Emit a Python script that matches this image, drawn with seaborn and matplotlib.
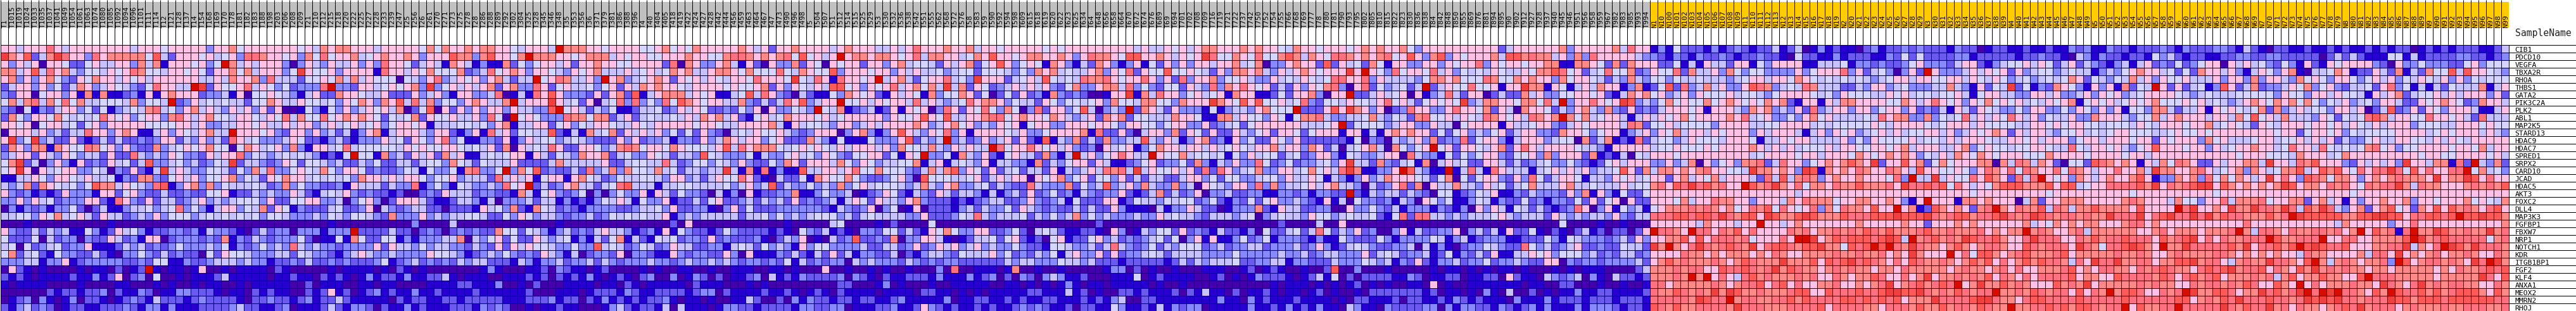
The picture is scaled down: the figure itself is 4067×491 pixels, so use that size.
import numpy as np
import pandas as pd
import matplotlib
matplotlib.use("Agg")
import matplotlib.pyplot as plt
from matplotlib.colors import ListedColormap
import seaborn as sns

genes = ["CIB1", "PDCD10", "VEGFA", "TBXA2R", "RHOA", "THBS1", "GATA2", "PIK3C2A", "PLK2", "ABL1",
         "MAP2K5", "STARD13", "HDAC9", "HDAC7", "SPRED1", "SRPX2", "CARD10", "JCAD", "HDAC5", "AKT3",
         "FOXC2", "DLL4", "MAP3K3", "FGFBP1", "FBXW7", "NRP1", "NOTCH1", "KDR", "ITGB1BP1", "FGF2",
         "KLF4", "ANXA1", "MEOX2", "MMRN2", "RHOJ"]

tumor_samples = """T1 T1015 T1019 T1024 T1033 T1035 T1037 T1041 T1049 T1054 T1061 T1063 T1074 T1080 T1085 T1092 T1094
T1096 T1101 T111 T114 T12 T121 T128 T137 T14 T154 T168 T169 T170 T178 T181 T182 T183 T188 T198 T203 T206 T208 T209 T21 T210
T212 T215 T218 T220 T222 T225 T227 T228 T233 T239 T247 T25 T256 T26 T261 T270 T271 T273 T275 T278 T28 T286 T288 T289 T292
T302 T304 T325 T328 T345 T346 T348 T35 T353 T356 T36 T371 T379 T381 T386 T388 T396
T4 T40 T404 T405 T418 T419 T422 T424 T427 T428 T442 T444 T456 T459 T463 T464 T467 T47 T473 T490 T496 T498 T5 T504 T507 T51
T512 T514 T515 T525 T529 T53 T530 T532 T536 T538 T542 T551 T555 T562 T568 T572
T576 T58 T583 T59 T590 T592 T594 T598 T609 T615 T618 T619 T620 T622 T623 T625 T634 T64 T648 T656 T658 T664 T670 T672 T674
T676 T689 T69 T694 T701 T702 T708 T709 T716 T719 T721 T722 T737 T742 T750 T752 T754
T755 T766 T768 T769 T777 T78 T780 T781 T790 T793 T795 T802 T805 T810 T815 T822 T823 T830 T836 T838 T84 T842 T848 T850 T855
T869 T876 T881 T894 T895 T90 T902 T912 T927 T928 T937 T940 T945 T946 T951 T956 T958
T959 T967 T982 T983 T985 T993 T994""".split()

normal_samples = """N1 N10 N100 N101 N102 N103 N104 N105 N106 N107 N108 N109 N11 N110 N111 N112 N113 N12 N13 N14 N15 N16
N17 N18 N19 N2 N20 N21 N22 N23 N24 N25 N26 N27 N28 N29 N3 N30 N31 N32 N33 N34 N35 N36 N37 N38 N39 N4 N40 N41 N42 N43 N44
N45 N46 N47 N48 N49 N5 N50 N51 N52 N53 N54 N55 N56 N57 N58 N59 N6 N60 N61 N62 N63 N64 N65 N66 N67 N68 N69 N7 N70 N71 N72
N73 N74 N75 N76 N77 N78 N79 N8 N80 N81 N82 N83 N84 N85 N86 N87 N88 N89 N9 N90 N91 N92 N93 N94 N95 N96 N97 N98 N99""".split()

# colour level of each cell, a = deepest blue ... l = deepest red
levels = "abcdefghijkl"
level_colors = ["#4500AD", "#2700D1", "#6B58EF", "#8888FF", "#C7C1FF", "#D5D5FF",
                "#FFC0E5", "#FF8989", "#FF7080", "#FF5A5A", "#EF4040", "#D60C00"]

block_1 = [
    "ggeggg igeggg ggggge gggfgg gggdgg hfgggg gggfge",
    "khgjce hkiggd ighhhh hfjecg ggfgef gdiihg gfgdhf",
    "gdgega ggfccf geeggd hehbgg gfgdfl hegegg gdadge",
    "hhegje ighedf fegfgi hffegg fgfcgg hfhegg gdfkgf",
    "ghdgdg hfdcgf hggegf gegggg ggeege hgghdi eeecff",
    "ceggdg dfcehg degfed cfigge elkcgf fgiegf dfcddd",
    "dcggaf ggdgbh bhbbcd bgbghg ggcdde bgaffg fedbeg",
    "fhehie hfifhe efffeh dffelc dgefef eecffh geegff",
    "dcafbd ceggdf cfbdef ehiefd gheged gegdgc gaabfd",
    "chfdgg fhfefe figfgd fggdhi geghff eggfeg fiehff",
    "ggfgaf ggefcf gdgggg gffffg gegdde eggfge egeggd",
    "agggeg deceei ggdghg bbegdg feghee lgggfg dcggdg",
    "gkdfkd eccgcb cececc dcdggc edgdec igefdd degfcc",
    "chgdhh bhgffi hfgdgd cchdef gfghff afhgef gdhdbg",
    "deggcg edgfde ecgcci ededgf ddcgeg gidfed efefed",
    "fhkcea dgdbgc dcgefc ejddef decdfe kceedc dgfcff",
    "fgkgag efggdd feadcg cbekeg eddffe cfdhei ddfgfe",
    "bbeegf dggfeg eefbdc hhdcfg egdffg hdfecg fhggef",
    "edehch gfefdf jhhegf edijbd ghdhdf eeefec dhdfdd",
    "gdcdbc bcgddd bggcfg dccecc dccffg bccede ddgecb",
    "ddgdge fcdddg gcbigd cgceec degded efffdg ccffgg",
    "adbdcd bddfca cebbde efdefi dfdbeg gdfehc gfbdcc",
    "eeffdg fhefge cgeecd edgdff fdefef efefdf feddde",
    "aaabaa aaaaaa aabaaa aaaaaa aaaaaa aaaaaa aaaaaa",
    "gdccec edebbf dbcgef dbccdd cdbedd cbacec ddaddd",
    "fcccfa ecddad ccgecd bggacd ddcdch bdcedc dddfca",
    "efafcd efcddg bbbced ecdcdf dddedf bdcdfd ediede",
    "fhcefc bfddcc ecbadd fdcecd ccafcg ffeddd eecfed",
    "dddeeb ddgbcd ddddcc dcffbb dccdee ededdb ccdcec",
    "agcbab aaaaba bbacab clbabb abgaab abbbba cbaaaa",
    "cbcbab bbbcbb dbcgac dafaab abbbce bbbbba bbcbba",
    "babbbb aaaaba aaabba aababa ababba ababbb bbaaca",
    "aaaaaa cbccbc cdacbb dcabbd dcccba bbacbc bbaacb",
    "abcdad babdac cbabcd cbeccc bcdccc cbaccd ccbcdb",
    "cbdecd cabccb bcccdc bddbdb bbcccc deccbb cdabbb",
]

block_2 = [
    "hghhgg gegggg gfhfhg ghghhg gfeggg elhhhg gfgggg",
    "ifgghe fghggh gdgggj hhdhjg gfhlhh hggfgh hhegfg",
    "dgeegd gdiggf cegebh gebdbb hcfdfg gegcgg hggffg",
    "fgdggg gbigge gfhfff hcdeif ghgdgg fedgfg heeege",
    "gfhehe gfffaf edgide gfgdgh eceelf giheeg dlghde",
    "ilddcg gefgfg hdkdfg egeghc ghddig cfgeef dfgcge",
    "cchggf eegccc gdegdb ggddei abebig jgdddc gcghcj",
    "efdgfh gdhgje iehdff dghgee hleggg kgefcg aefidi",
    "bfdgde gfgeha cfjagc gdgdgg dgeedd jlfgec edfbbc",
    "ifghgh gfcfef hcgffg eegdif alfgfd ddihhf hhcegc",
    "egefge fgdfgg fgbeee ffefdg hbeegg cfgdfe ggfeeg",
    "decebd ghbegg gedggc bdgbie gcffee jcbebh efhcge",
    "bdecbd ddgefc gfdgid fbbddc gbdgef fdefed cccgdg",
    "gefief ffffeg fgffgg fefegc hagefe igccgg fdehih",
    "bcbflf fbhdec gegche gbbefe fggbge cfedhg ghcefd",
    "edecce dfccee ceffdh fecfee egcccc eheeee egccef",
    "hfdggf cdccdf ebfddf bhiddf ldhfjc dcceci dehdhf",
    "efefdh ggegeg gfdffg deeeci egegbf ggbghf ecdfee",
    "ccdbge eecedd ibdfdb fedded ifglce cdghee cefije",
    "efegdc dccbca acdcge eecddc cbhebf gdcdfa dadfdd",
    "ddeadf gdacgg gecbbc eedbea dddece ebdbcb dfegeb",
    "cefccd gaedcd eeccac ccbgef dhcbhf ecdcbd dddccd",
    "dfedff edchdd dgdede effecc fdgfde edcdde cdfefe",
    "abaaaa aaaaaa daaaae aaaaaa aaaaaa abaaaa aaaaaa",
    "bdddlc cccecc acdcac dcdcch ffcfed bdecdc egeedb",
    "bbfbhf ccffbd bdddee haedfg cfccge defbdb ecfhbe",
    "ddcddd dgcgee dfdeed dcedcg cgegff eddfdd jefecd",
    "dcbdeg eddedd ddgffe dbcded fdcdcg edbeac ddcgad",
    "cdcdcc cdfbcd ecdcdc edeecc cbedbd decdde cedcdd",
    "ababbb babacb abaaaa aaabdb aaabbc adcbba bcaaaa",
    "cbcbab dbccbd bbcceb abbbaa bbbcbc acbcbd babcba",
    "bbbaab babbaa aabbbb ccbbbd aabaca aabbbb abbacb",
    "cgbcab cdbcbb dbbcbb bbcbbb bbbcaa abbbab cccbdc",
    "ccecbb bbbacb ccbbcc bccccc bbbccc dbccac bdbcbc",
    "cecbdd cacbbd bcbbbc ccbdcd caabab bcbbaa abdecb",
]

block_3 = [
    "ffghfg fhgggg ghgegc gghggg geghgg geegeg iggghg",
    "gffggg hggffh iihghg hifjfg eglghh ghhgfg iehhgg",
    "gggcia hgddgh ebgcag ddhcgf agfggc ggdghe ffecge",
    "fgefhg heeghh gfhfff ifehgf fjdggg fggdge geefde",
    "fghgcg fgegfe ggfigg gfkfei gbiggf gleghe cfggie",
    "hghggf eggggf gffghc gdgfeg ejjfgd gfgieg hfheke",
    "beghhh egfgbb efjeig dcaecb bfdhgf gcbgeg fbhdff",
    "dfdifj hgfgge ehdcec eigjde gglffg egfgge iegede",
    "eefcdg egfccd cfdgag ddfedl fehbcd ebcgbg fgadig",
    "efeefe gehghe gcbfge fhgggf gefggg ggdgff gjgfje",
    "fegggg gfggfe eggggh ebgeff edggde gegggg hgdegh",
    "gegdfc fcgdca efegff gedcdg ggadgh dbdgjg edgfid",
    "cddebd dcgdeh geggdf gccche dbfbbb fdddgj cedeld",
    "fggfhg fffegj eighhh fefgfg fegegg gegdhf fehedg",
    "dgfece edjfed ddfbed dfgefd gfdcff ggcfbg flddfb",
    "feeiec dffdfe dgdccf dhgcgg gehfdg fdeeff hbegbe",
    "fehefc eedeek ebhbib dbbjee ggegif fhfffd cehehj",
    "ffedgg decegf figcba eccfbh gffhfd ccdfgd ajfffe",
    "eebeef feeeef degdej ceddfd edhdfg efffed ehedgh",
    "gbgecf ddcaeb dagbcc ddhbbd fddeab cdgfcb edcgec",
    "fddgbc cecfgc cdeced ecgcdc debegf cgeedg hdcccb",
    "eefdgc cddbad gcfccc dddddd cbedcd gadfab gacccb",
    "feegbd edeeee eceefd fdedef ffdece feeeed dgcccd",
    "aaaaca gaaaaa aaaaaa abaaaa aefaaa abacaa aafaaa",
    "cdbgbf dccbcf dccccb cbafdc ebcbad dcffce cbgfhf",
    "cbfefc ddcgcd cccdba cedgab aecdjc cdchad dggeba",
    "fecdge eccddb efecfd edbgdf fdddde cceecd gcdgeg",
    "dcbbgd cddccg dagbbb dcecbe cgcebd dcceac bdeedc",
    "deddcd eddede dcddcd cfbecd cddaed edddce dcdcdd",
    "babaab baabaa bbbaab babaaa gaabaa babaab aaadai",
    "cdaada bdcaca bbcdae bcbdcc ccdadc bacbbc ccbdbb",
    "abbbbb acbbba aababa aaaaaa aaccaa abdaba aabaab",
    "bbcccc bcddac bbbbcb bcbabc bacbbb babbbb accbba",
    "bccdba bbabaa bbecaa cadbdc cbccbc cbbcdb bbbbda",
    "ccbeae bbbabd dccbcc ccbddc cddabb bccdbb cgdcbc",
]

block_4 = [
    "gheggf gggggf gfgggg ggggge geegfg eghhgg ghghgg",
    "efhgjg gfghhg ghgdgi hhgfjj gghgeg fgkiff hgfiff",
    "ghcfgj gdfgfb hgdbec hgdbdg bfcgdg dggegg hefhad",
    "ffcfff edfdhg hefeeg hdgfic gffjff gfecgd hhghed",
    "fdkggg cefgej fefeih higfgg igdgci dgghdf fgeddg",
    "hcgfcd egegeg dcfhdd ghheid fdcffc gedidh gigfgc",
    "hgcfac fcgcdb hdcdca abggkb heiggd fgefgb hggbbc",
    "fighhg dfeecg fdffef gdhffe hhffdh gggkhg fjgjff",
    "cgfifd hfadic ggdfje adedlc hgecgd ddbfbd eedghf",
    "egghii fghggf hgedeg chghcf feeehg gfbbhh egffdg",
    "fgdedg fgbfgg ddgggf ggfdgg ffdfgg ddgcde fcfggg",
    "gbgggg fegddf gggghb iccgca eggdhc gfcgcc gedfgc",
    "ecdgde gcgcbj bedhce chddee jedgeb dghcdb gdfccg",
    "egeeli fggigf gegdcd agefgb dfhgge ggegef gfeggh",
    "hedgcb fgeech dbeleg dfgige elgffh effefb fdgeff",
    "fedgbe eddbhc edfggc gebbcd fgcddf chdbed gddifc",
    "dgfcgc efceec gbedeg eihiek egffge gcicig defhdd",
    "efgceg eggagf ghdfgc ffdgce ceecce ggdfcf fddeff",
    "ddefce dccied ddhcfd ejdegd heddhd eagfed ggdidh",
    "eedbeb decgcd fcdbed cddgcb cehcec dgadde ccddbb",
    "cbcdee ccdgdc debfcc cggbcf eedfef fcdfcb dcfcfg",
    "decedd fcgedc dccece ccgdbb baebdd geccab dddhcb",
    "feiede eefced fdehdf deddde ddgefe edceee defade",
    "aaaaaa aaaaaa aaaaaa caaaaa aaaaaa aaaaaa aaaaaa",
    "ddggcc dfcaef ecbbcc bagdab edffcg cdcbec cbdafc",
    "bceefc fgcbca fgbccf gdecdc defcfa dgbgbb dfcdfb",
    "degded dfdccb ffedde ceiedc dfcedf ffcdec ddeecd",
    "feeegd fcdced fbegdd gcgcdd efecee eedddd fddddd",
    "cccccc edeedd dfeede cccbcc cccbce cedeee fccdde",
    "aabbba bhaaba abaaaa abddac abaaba aabbba abcabc",
    "bdbcda cadcad edbbca aabbbf abcbbb baabca babdcc",
    "bbbbaa bbabab abdbab babbbb babaab aaaaaa aaaaab",
    "bababb bbbccb bbebca baaccb cbbbca cbebba cabbcb",
    "bbccbb cbcbbc cbbbcb cbdeaa ccbbbb bbbbdb badbcb",
    "bbcbcb bcdcdc bbcacc bbfdbb cbebdc ddabbb bbdbbc",
]

block_5 = [
    "fehggf gggfgh ghgghf dggggg gggggc eggggg ghdggg",
    "hjhehg fiihgh ghifgj gdhjdg fggghe jjhihh egdhdi",
    "dghggc jcgefc hfbggd dggdgf ggidgf ggfggh hbbhhg",
    "geghgf gggkgl gfdifg gfiegd fefegf eegfhh jifgce",
    "efegfe fiiggi dgeeee dfhhgh fffihf fhghgg dhfggf",
    "ecgdgf hidagi cfdefc elcegf fiffgb ggkhhb gfbege",
    "fcgghd agglcc egefga gbdeie cggace cchegd dffggf",
    "gefidc ffegff egifge cfgfgf kdehhg gfhhfi eldggi",
    "fflccc gjgkhg dgacdi ggddgi ggfhcg eahggf cedghe",
    "fbfhhi eddeef hedfec hiffge gfeihg fgeihg hlhfhe",
    "gggeee fglcff ffdegg ddgeea fggggb geefgg dcegfg",
    "ggfcfg ggbggb ebghgh ggcfcf gdedfg ceggdd chggfd",
    "fdgccc cccbfa dcaede gdhcdd icfggd begggd effahc",
    "eggdhg ceaefg heahfd fglfgc ggfegh cgigeg gggfee",
    "cefcdg gdbfed deggai eddbfc fdfggd cffgdh dgggch",
    "dfcdde fdgkee chdcef bhaege fccgge cecdef ddfdcb",
    "ggefhf geikhb bddglj edbblb eiebig eeebef gegegd",
    "dgeegf bedbdg dehggg fecfha fcfggd cgdifc eggfbe",
    "deefge gheeda ecdgic hageeh eedgef cefhee egheef",
    "ddcdbd dcclcb edeece dcaffb cdfegb bdcedd dcgdhb",
    "ddedcb gbeafd dcdbed agfdfb bdfebd ccfcdb ddcfcg",
    "geeccd daagdd fdcebd ddbdcb dagdge bfecec bcdiga",
    "feedgf fdefee fcbfic iieede deeefg edeeec gedede",
    "caaaae aagaaa aaaaaa aaaaaa aaaaaa aaaaaa afaaaa",
    "cefcei fcedgc daadgb eccddg adeceb gccfba cbaceb",
    "dddcbd bbfdcc cfdbdd ddfebd ebcddd bbcccf dbfedd",
    "ddecdg dbcefe dccdde aebdba cddfed ccifde cdegcc",
    "eddecd eedddg cefecd debcfb dcecgb beegfg dfffde",
    "ebddcc cedddf edebdc gcbdde cddfcd dedccg gadcdd",
    "baabaa cjaada aabaaa aababb ababab babaaa bababb",
    "cbabce bfacac cccbbd cabbcc abbcca gcbbae dcdead",
    "abbbab ababca babaab bagaba abbbbb bbabba accaaa",
    "abbabc abaaba cccccc cbcabb abadba eaacab abbdbb",
    "bbcbbb babacc bbbcac cbbcbd cbcbbb adbbbd bcccbc",
    "bdbcbd bbaedb badccc cddadb ddccbd cbcdbd bbbdbd",
]

block_6 = [
    "ggheig gbdbfc ccbdbc dcbcce bceabd bcbbac dbccdc",
    "ggggge ddcbdc bdccdc bccdcc bafccb bdbccc bbdcfc",
    "fchchg ggccfb ebgeec ggbfdg gggbbe eefbdd cdccdf",
    "fiffhc dgffic heegdh fdffdd ddgdfg ggidgc efdadg",
    "ecedhe dffdfe efeeed efggeg gfhgfe fefefe defgge",
    "hggbdh bcfjci dehegd dgjihd efeihe eecced ggdefd",
    "gcbehg hfgdeg dgfffg effedf ggggfe fdgfff eegfge",
    "gfgkjd edfhfg ffhfgh gfgfhg hcbggb gehhgg ggffhg",
    "dhdcgc dceggg fgbggg edhghd edgcid eggdgg dfggdg",
    "fggebe gegfgh fggggh giefgd dfdghf geeeef eighhd",
    "gggeih cffgef fffdgg ggeeff ggggef efffff gfeggg",
    "fggbde gdgfhe ggegfg ggdgeg ggebeg dgfgde fgegef",
    "ehbcbi ceffde gfffeg ggfbee gfggee eegdfd gffffg",
    "dbgggg geffgf ffgfgg gghgeg egefff geggff ggfghe",
    "bcbeaf egggfg gggggg ggefgg ggfgge gggfhg fghghg",
    "cfgegg gddgde hagdfg dhhice iggdfg hghjhg kcggjg",
    "eefjgc hehhgh ghiggf fekhhg hgdkjb hghgih ggihge",
    "edgfge fggcgh egfheg ggecie jehihd ghgghg ggfidl",
    "eeegef fhigji kijhig gljhik hgifhh gihhjh hhigki",
    "gdbfcc fggggg gggggg gggggg ggeggg gggggg gggggg",
    "cfgagc cgggfh eggihh ggdggg ehgihh hfgghh gghgdb",
    "dgbfde bfghhh ihihgh fgihjf igfgid hfihhg jgglgh",
    "edgdce eiiijj ijjiki hjjgkj hhjkjh hhjiii jjjkjj",
    "baabaa aggggg gehggg egglgg eghggg gggghg gggghg",
    "caccac gliihg liigih jgiggg gihigh hihihj ihjhhh",
    "dcdecg dgghhj gjgiii hifggg igllkg hjijjj ijkjel",
    "dccfee ckhlhg ikihij ihkgij jihjjk hhfjij ljlihk",
    "cdceec dggggi hhghgh hhghgi hgghhh hihhih highgk",
    "cdddde cghjhi hhhihg hjihhh khhhjg jijkij ihgigj",
    "baaaac ehhhih iiggji ijihik hjihhg hihihh ghhgih",
    "baeccb chhhih lhlgig eijhih hhihig gihghh jiggig",
    "baabaa biighh hhhihg hiijgi jgiggh higghg hikghi",
    "ccbbbb cihhji hihkhk jhhihh hijjgg jiiiji ijkkjj",
    "ccbccc biiiii hkjiil hiihhi ijhjii iijjij ijijgh",
    "ddcbcc bjihjh hiiiih kiiihh hiiiij giiiih hgiiih",
]

block_7 = [
    "dcccbd ccabcc bbcbbc bbdcdb bdccbc ccdcbd cccddc",
    "fccccd dbcccc cbccdc cbaedb dccbcc bfdecb ccbbcc",
    "gdddce ggcbde ffgegf cegced cbdebe gcdcfc dfggag",
    "clgddd egegfg cgdeff defeeb dedfgh ggefcf chggeg",
    "ggffgg egfegf defdef efhgcf edfehe gdgffg eeegdg",
    "ddeehe dbgcfe kcfbdc hgfdbg dgbhcf elgcgc efbdjg",
    "ffeffg ebfgge eddgge gddegd gfgdef ggggfe defeee",
    "egigfg dgfhfg fgefeg fghbfg fgefgf ghfffg fgefed",
    "cdcebg ecgfed dfdggd dfdgfd gdgbff dhhece egbgfg",
    "dhdfef iegegf igegdf eegddh gggedf fheghg ggegge",
    "gfefgg gegfff feeggf gfggff efffeg fegggf gghefg",
    "fggegd egfghg cgegge dffgef efggff feefgf fgfggg",
    "effege gggfee ggfgeg ggdfgg egggfg gcgfgg gdhfge",
    "gggeeg hdfgff effggf eeifeg gfgedf gjgggf ggdgef",
    "dfegeh gfhgfg ggfffh ggggfg gggfgg eggggg gggggg",
    "hcfhfg gghhah eihehg caffcj ihghgb gehfih gccgeg",
    "jggffg fdgihg ifihgg ifihge ggiggh ekhhgg higefg",
    "eekegf figjhg cieilg fgdhge ghgghj gbddhg hdifhf",
    "ijijfi gegfhj jjhhhj gjjefg giiiij hkgihi jkkgjh",
    "gggggg gfgggg gggggf gggggg ggggfg gggggg gggfgg",
    "glgggb hhghgg gaehcg ghhhgg ggghih gggehf fdggie",
    "bcjhgh gchilh gihhje ihehhj hhhhgj ggggli kgghgk",
    "jkihij jhiijk ihikji hiihih hkiiik gijkii kikhji",
    "gcgggh ghgggg gghegf hghghh ggghii ghgggg gggggg",
    "ijhhih hhighg hhlhih gghieh hhhhhg ghighh hghhhi",
    "hijhih kjiijh ggikii iggihj hiijii igjhij kgigih",
    "ihhghj hghiih ggjihi iigkih fiijkj hglhhk iiiiij",
    "hggglg ifjjhg hijhhh ijghhh hhihhi hgghih hhhiih",
    "ihhihg hjhjgi ghjhji iheigk iikhhi ighhjj khiige",
    "hhhhgh ihhghi gigghh hijghg iihhgi hijihh gijijk",
    "hkghhi hihjgi hgigii iijghh ggjiii ihjigi jhijgh",
    "jhijil ghkhhj hihggg jhihkg hhhhhi hihhgg ihiihi",
    "kihihj ihiilh hihjih iigjgi hlhjji ggihil khhjji",
    "hhkiii ijkkih hgijji iiijii iiijii iiiijj ghihji",
    "jhhjhi ihjihh lhhiij ijhjji hiilgj hhiili iiiiki",
]

block_8 = [
    "becbac cbbcbb cbcbbc bcbcca bcbcbc ccbbce",
    "ddccdd ccccca cececb bbffbe bccccd dccbcd",
    "egefdc fdbgcb gfgggg dcagdd fdddcc fgdfff",
    "dbegfd ghbaee fhgbcc gechbe chffje jggfed",
    "gdhdgg edhfgf dggfdf gegdfe gfegdg dfefff",
    "cehcdd egfhdf gdceef cgidfb ebecfe eehbeg",
    "fffffd gffdgg egffeb geghce ffgege gggdgc",
    "eghgfh ghfhfd fegdef dggecc gfghgf cdhgge",
    "fefhch degeff dggega cejcdg cgfdgg gebbeg",
    "hfjfge heeedg fcfefi jheggf figgfg ecieee",
    "fecgfe gggfgg fgegfe gegggd fffeeg ggfgff",
    "gggggf ggcfgg fgdfef fffggg gefgfg ggeged",
    "eefgge ffgege gceddf geeggf fegegf eggggg",
    "gghgge figgei fefefh ifgdff ggggfg gfhegg",
    "fgggff fehggg efhggg gggggg fggffg gggfge",
    "ghhekg geihjg ggdcge gegdkg gehhbi cledhc",
    "hdhgef hhjegj hjgfig iikifj giggii lfhefd",
    "hgegkg igdjih fhhgdg hghihh hgkghh kjgigg",
    "ghghgh kjghhg ihigfi hiikhe ihhggg hihihj",
    "gggggg gggggg gggfgg gggggg gggggg gggggg",
    "hhhifg ghhcgh egbgdg ghgghd ggfggg hfgfeh",
    "hhkiih kiejhk iedghc ghjfgc hgjgjh ihgijg",
    "ihhhjh ilkjjj jjhhjj kkjjgi ijjijl jjkjjh",
    "gigggg gggggg gehggg ggdggi gggggg gggggh",
    "lheiih gihhii highlg jhibil hhkjhh ihhkhi",
    "hiiilj hhiiil ggiigg hhhhjl khijii iiifhi",
    "hkgiij hjljkj iijggg hhiike hgilkj hkiiih",
    "ghghgh ggeihh gggghe iigkgh ghighh ihggih",
    "hihhki ihgjlh ehihgh hidljg hiihih gkilkh",
    "hiijgi hgjhkh ihihhg hhghhh hhghgi hhijij",
    "hhihie hjghhj hhggjl iiihhh hhghhh hhkigj",
    "hjiggj hglgig hhhihh gkihgi khihii hhggih",
    "ghhkij hiklil kliihg jhljii jhjhij jjhgjh",
    "kiiiji ihikjk jkiihi iikjjh jjjijj jjjjii",
    "hjiikh igihhg hijikh iiighi hhhihh iiihhi",
]

blocks = [block_1, block_2, block_3, block_4, block_5, block_6, block_7, block_8]
block_sizes = [42, 42, 42, 42, 42, 42, 42, 36]

samples = tumor_samples + normal_samples
rows = []
bad = []
for r in range(len(genes)):
    parts = []
    for k, (b, n) in enumerate(zip(blocks, block_sizes)):
        txt = b[r].replace(" ", "")
        if len(txt) != n or set(txt) - set(levels):
            bad.append((k + 1, r, len(txt)))
        parts.append(txt)
    rows.append("".join(parts))
if bad:
    raise ValueError(f"bad rows: {bad}")

matrix = np.array([[levels.index(c) for c in row] for row in rows])
df = pd.DataFrame(matrix, index=genes, columns=samples)
group_row = pd.DataFrame([[0] * len(tumor_samples) + [1] * len(normal_samples)], columns=samples)

W, H = 4067, 491
left, right = 0.5, 3960.5
top, bottom = 70.5, 490.5
mono = "DejaVu Sans Mono"
lw = 0.72


def px_axes(fig, x0, y0, x1, y1):
    return fig.add_axes([x0 / W, 1 - y1 / H, (x1 - x0) / W, (y1 - y0) / H])


fig = plt.figure(figsize=(W / 100, H / 100), dpi=100, facecolor="white")

# sample colour band
ax_band = px_axes(fig, left, 3, right, 44)
sns.heatmap(group_row, cmap=ListedColormap(["#C0C0C0", "#FFCC00"]), vmin=0, vmax=1, cbar=False,
            xticklabels=False, yticklabels=False, ax=ax_band)
ax_band.set_xlabel("")
ax_band.set_ylabel("")

# expression cells
ax = px_axes(fig, left, top, right, bottom)
sns.heatmap(df, cmap=ListedColormap(level_colors), vmin=-0.5, vmax=11.5, cbar=False, linewidths=lw,
            linecolor="black", xticklabels=False, yticklabels=False, ax=ax)
ax.collections[0].set_clip_on(False)
ax.set_xlabel("")
ax.set_ylabel("")

# header: sample names and column rules
ax_head = px_axes(fig, left, 0, right, top)
ax_head.patch.set_alpha(0)
ax_head.set_xlim(0, len(samples))
ax_head.set_ylim(top, 0)
ax_head.axis("off")
ax_head.vlines(np.arange(len(samples) + 1), 0, top, color="black", lw=lw)
for i, name in enumerate(samples):
    ax_head.text(i + 0.62, 44, name, rotation=90, ha="center", va="bottom",
                 family=mono, fontsize=8.2, color="black")

# right side: gene names on top of the row rules
ax_side = px_axes(fig, right, 0, W, H)
ax_side.patch.set_alpha(0)
ax_side.set_xlim(right, W)
ax_side.set_ylim(H, 0)
ax_side.axis("off")
ax_side.hlines(top + 12 * np.arange(len(genes) + 1), right, W, color="black", lw=lw)
ax_side.text(3970.5, 57, "SampleName", family=mono, fontsize=10.6, color="#222222", va="baseline")
for i, gene in enumerate(genes):
    ax_side.text(3970.5, top + 12 * (i + 1) - 0.5, gene, family=mono, fontsize=8.2,
                 color="black", va="baseline")

fig.savefig("out.png", dpi=100)
